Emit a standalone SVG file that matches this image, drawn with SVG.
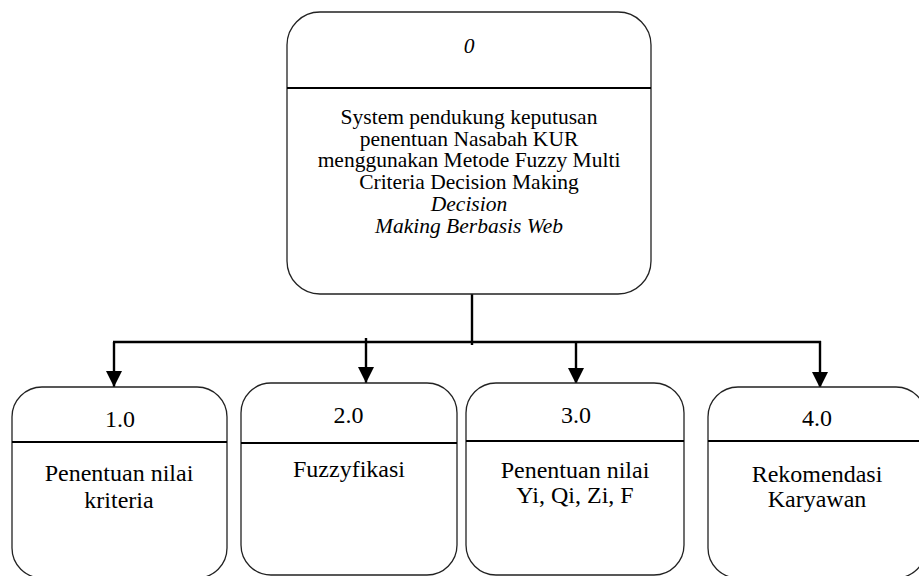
<svg xmlns="http://www.w3.org/2000/svg" width="919" height="576" viewBox="0 0 919 576">
  <defs>
    <style>
      .box { fill: #ffffff; stroke: #222222; stroke-width: 1.3; }
      .div { stroke: #000000; stroke-width: 2; }
      .wire { fill: none; stroke: #000000; stroke-width: 2.4; }
      text { font-family: "Liberation Serif", "Times New Roman", serif; fill: #000000; text-anchor: middle; }
      .top { font-size: 21.5px; }
      .sub { font-size: 24px; }
      .it { font-style: italic; }
    </style>
    <marker id="tri" viewBox="0 0 16 16" refX="16" refY="8" markerWidth="16" markerHeight="16" markerUnits="userSpaceOnUse" orient="auto">
      <path d="M0,0 L16,8 L0,16 Z" fill="#000000"/>
    </marker>
  </defs>

  <rect width="919" height="576" fill="#ffffff"/>

  <!-- connectors -->
  <g id="connectors">
    <line class="wire" x1="472" y1="294" x2="472" y2="345"/>
    <line class="wire" x1="113" y1="342" x2="821" y2="342"/>
    <line class="wire" x1="114" y1="342" x2="114" y2="387" marker-end="url(#tri)"/>
    <line class="wire" x1="366" y1="338" x2="366" y2="383" marker-end="url(#tri)"/>
    <line class="wire" x1="576" y1="342" x2="576" y2="384" marker-end="url(#tri)"/>
    <line class="wire" x1="820" y1="341" x2="820" y2="388" marker-end="url(#tri)"/>
  </g>

  <!-- process 0 -->
  <g id="node-0" font-family="Liberation Serif, serif">
    <rect class="box" x="287" y="12" width="364" height="282" rx="33" ry="33"/>
    <line class="div" x1="287" y1="88" x2="651" y2="88"/>
    <text class="top it" x="469" y="53">0</text>
    <text class="top" x="469" y="124">System pendukung keputusan</text>
    <text class="top" x="469" y="145.7">penentuan Nasabah KUR</text>
    <text class="top" x="469" y="167.4">menggunakan Metode Fuzzy Multi</text>
    <text class="top" x="469" y="189.1">Criteria Decision Making</text>
    <text class="top it" x="469" y="210.8">Decision</text>
    <text class="top it" x="469" y="232.5">Making Berbasis Web</text>
  </g>

  <!-- process 1.0 -->
  <g id="node-1">
    <rect class="box" x="12" y="387" width="215" height="191" rx="30" ry="30"/>
    <line class="div" x1="12" y1="442" x2="227" y2="442"/>
    <text class="sub" x="120" y="427">1.0</text>
    <text class="sub" x="119" y="481">Penentuan nilai</text>
    <text class="sub" x="119" y="507.5">kriteria</text>
  </g>

  <!-- process 2.0 -->
  <g id="node-2">
    <rect class="box" x="241" y="383" width="216" height="192" rx="30" ry="30"/>
    <line class="div" x1="241" y1="443" x2="457" y2="443"/>
    <text class="sub" x="348.5" y="423">2.0</text>
    <text class="sub" x="349" y="477">Fuzzyfikasi</text>
  </g>

  <!-- process 3.0 -->
  <g id="node-3">
    <rect class="box" x="466" y="383" width="218" height="192" rx="30" ry="30"/>
    <line class="div" x1="466" y1="441" x2="684" y2="441"/>
    <text class="sub" x="576" y="423">3.0</text>
    <text class="sub" x="575" y="478">Penentuan nilai</text>
    <text class="sub" x="575" y="503">Yi, Qi, Zi, F</text>
  </g>

  <!-- process 4.0 -->
  <g id="node-4">
    <rect class="box" x="708" y="387" width="218" height="191" rx="30" ry="30"/>
    <line class="div" x1="708" y1="441" x2="926" y2="441"/>
    <text class="sub" x="817" y="426">4.0</text>
    <text class="sub" x="817" y="482">Rekomendasi</text>
    <text class="sub" x="817" y="507">Karyawan</text>
  </g>
</svg>
